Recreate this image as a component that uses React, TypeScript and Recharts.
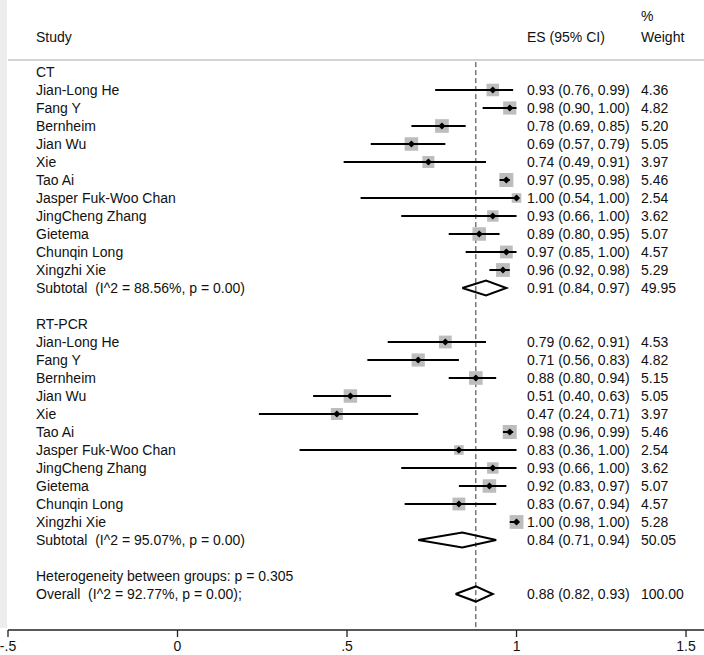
import React from 'react';
import { ScatterChart, Scatter, XAxis, YAxis, ReferenceLine } from 'recharts';

const STUDIES = [
  'Jian-Long He', 'Fang Y', 'Bernheim', 'Jian Wu', 'Xie', 'Tao Ai',
  'Jasper Fuk-Woo Chan', 'JingCheng Zhang', 'Gietema', 'Chunqin Long', 'Xingzhi Xie',
];

const CT_ES = [0.93, 0.98, 0.78, 0.69, 0.74, 0.97, 1.0, 0.93, 0.89, 0.97, 0.96];
const CT_LO = [0.76, 0.9, 0.69, 0.57, 0.49, 0.95, 0.54, 0.66, 0.8, 0.85, 0.92];
const CT_HI = [0.99, 1.0, 0.85, 0.79, 0.91, 0.98, 1.0, 1.0, 0.95, 1.0, 0.98];
const CT_WT = [4.36, 4.82, 5.2, 5.05, 3.97, 5.46, 2.54, 3.62, 5.07, 4.57, 5.29];

const RT_ES = [0.79, 0.71, 0.88, 0.51, 0.47, 0.98, 0.83, 0.93, 0.92, 0.83, 1.0];
const RT_LO = [0.62, 0.56, 0.8, 0.4, 0.24, 0.96, 0.36, 0.66, 0.83, 0.67, 0.98];
const RT_HI = [0.91, 0.83, 0.94, 0.63, 0.71, 0.99, 1.0, 1.0, 0.97, 0.94, 1.0];
const RT_WT = [4.53, 4.82, 5.15, 5.05, 3.97, 5.46, 2.54, 3.62, 5.07, 4.57, 5.28];

// pooled estimates: CT subtotal, RT-PCR subtotal, overall
const POOLED_LABELS = [
  'Subtotal  (I^2 = 88.56%, p = 0.00)',
  'Subtotal  (I^2 = 95.07%, p = 0.00)',
  'Overall  (I^2 = 92.77%, p = 0.00);',
];
const POOLED_ES = [0.91, 0.84, 0.88];
const POOLED_LO = [0.84, 0.71, 0.82];
const POOLED_HI = [0.97, 0.94, 0.93];
const POOLED_WT = [49.95, 50.05, 100.0];

const X_TICKS = [-0.5, 0, 0.5, 1, 1.5];
const X_TICK_LABELS = ['-.5', '0', '.5', '1', '1.5'];

const fmt = (v: number) => v.toFixed(2);
const esText = (es: number, lo: number, hi: number) => `${fmt(es)} (${fmt(lo)}, ${fmt(hi)})`;

type Row = { label?: string; es?: string; wt?: string };
const rows: Record<string, Row> = {};
rows['-3.1'] = { wt: '%' };
rows['-1.95'] = { label: 'Study', es: 'ES (95% CI)', wt: 'Weight' };
rows['0'] = { label: 'CT' };
rows['14'] = { label: 'RT-PCR' };
rows['28'] = { label: 'Heterogeneity between groups: p = 0.305' };

const studyPoints: any[] = [];
const ciLines: any[][] = [];
STUDIES.forEach((name, i) => {
  const groups = [
    { row: 1 + i, es: CT_ES[i], lo: CT_LO[i], hi: CT_HI[i], wt: CT_WT[i] },
    { row: 15 + i, es: RT_ES[i], lo: RT_LO[i], hi: RT_HI[i], wt: RT_WT[i] },
  ];
  groups.forEach((g) => {
    rows[String(g.row)] = { label: name, es: esText(g.es, g.lo, g.hi), wt: fmt(g.wt) };
    studyPoints.push({ x: g.es, y: g.row, wt: g.wt });
    ciLines.push([{ x: g.lo, y: g.row }, { x: g.hi, y: g.row }]);
  });
});

const POOLED_ROWS = [12, 26, 29];
const diamonds = POOLED_ES.map((es, i) => {
  const r = POOLED_ROWS[i];
  rows[String(r)] = { label: POOLED_LABELS[i], es: esText(es, POOLED_LO[i], POOLED_HI[i]), wt: fmt(POOLED_WT[i]) };
  const h = 0.42;
  return [
    { x: POOLED_LO[i], y: r },
    { x: es, y: r - h },
    { x: POOLED_HI[i], y: r },
    { x: es, y: r + h },
    { x: POOLED_LO[i], y: r },
  ];
});

const textPoints = Object.keys(rows).map((k) => ({ x: -0.5, y: Number(k), key: k }));

const TXT = '#111';

const RowText = (props: any) => {
  const { cy, payload } = props;
  const row = rows[payload.key];
  if (!row) return <g />;
  const common = { y: cy, dy: '0.35em', fontSize: 14, fill: TXT, style: { whiteSpace: 'pre' as const } };
  return (
    <g>
      {row.label && <text x={36} {...common}>{row.label}</text>}
      {row.es && <text x={527} {...common}>{row.es}</text>}
      {row.wt && <text x={641} {...common}>{row.wt}</text>}
    </g>
  );
};

const WeightBox = (props: any) => {
  const { cx, cy, payload } = props;
  const s = 6.0 * Math.sqrt(payload.wt);
  return <rect x={cx - s / 2} y={cy - s / 2} width={s} height={s} fill="#bdbdbd" />;
};

const PointMark = (props: any) => {
  const { cx, cy } = props;
  const d = 3.6;
  return <polygon points={`${cx - d},${cy} ${cx},${cy - d} ${cx + d},${cy} ${cx},${cy + d}`} fill="#000" />;
};

const NoMark = () => <g />;

export default function App() {
  return (
    <div style={{ position: 'absolute', left: 0, top: 0, width: 704, height: 655, background: '#fff', fontFamily: '"Liberation Sans", Arial, sans-serif' }}>
      <div style={{ position: 'absolute', left: 0, top: 0, width: 7, height: 628, background: '#ededed' }} />
      <ScatterChart width={704} height={655} margin={{ top: 0, right: 0, bottom: 0, left: 8 }}>
        <XAxis
          type="number"
          dataKey="x"
          domain={[-0.5, 1.553]}
          allowDataOverflow
          ticks={X_TICKS}
          tickFormatter={(v: number) => X_TICK_LABELS[X_TICKS.indexOf(v)] ?? String(v)}
          height={25}
          stroke="#222"
          strokeWidth={1.3}
          tickSize={7}
          tickMargin={4}
          tick={{ fill: TXT, fontSize: 14 }}
        />
        <YAxis type="number" dataKey="y" domain={[-4, 31]} reversed allowDataOverflow width={0} hide />
        <ReferenceLine y={-0.67} stroke="#c4c4c4" strokeWidth={1.5} />
        <ReferenceLine
          segment={[{ x: 0.88, y: -0.55 }, { x: 0.88, y: 31 }]}
          stroke="#333"
          strokeWidth={1}
          strokeDasharray="5 3"
        />
        <Scatter data={studyPoints} shape={<WeightBox />} isAnimationActive={false} />
        {ciLines.map((d, i) => (
          <Scatter
            key={'ci' + i}
            data={d}
            line={{ stroke: '#000', strokeWidth: 2 }}
            lineJointType="linear"
            shape={<NoMark />}
            isAnimationActive={false}
          />
        ))}
        <Scatter data={studyPoints} shape={<PointMark />} isAnimationActive={false} />
        {diamonds.map((d, i) => (
          <Scatter
            key={'dm' + i}
            data={d}
            line={{ stroke: '#000', strokeWidth: 2 }}
            lineJointType="linear"
            shape={<NoMark />}
            isAnimationActive={false}
          />
        ))}
        <Scatter data={textPoints} shape={<RowText />} isAnimationActive={false} />
      </ScatterChart>
    </div>
  );
}
